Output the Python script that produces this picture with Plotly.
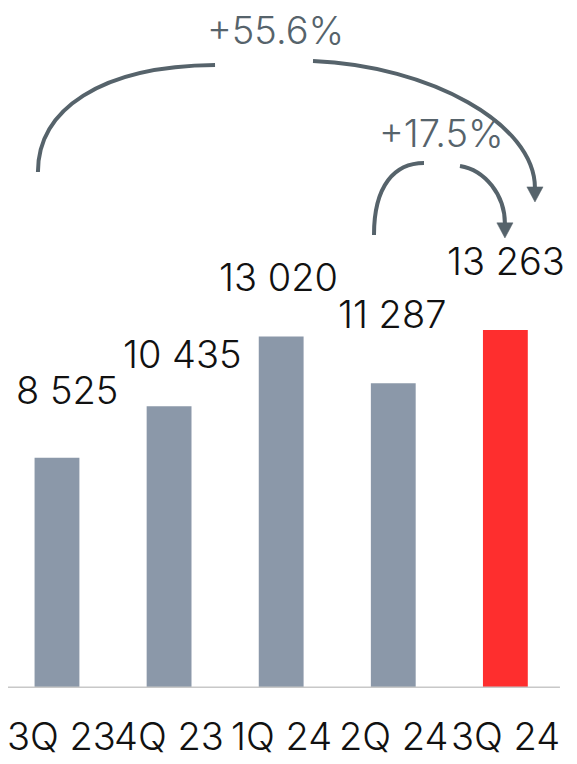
import plotly.graph_objects as go

categories = ["3Q 23", "4Q 23", "1Q 24", "2Q 24", "3Q 24"]
values = [8525, 10435, 13020, 11287, 13263]
value_labels = ["8 525", "10 435", "13 020", "11 287", "13 263"]
growth_labels = ["+55.6%", "+17.5%"]

GREY = "#8b98a9"
RED = "#fe2e2e"
ARROW = "#56636b"
TEXT = "#111111"
FONT = "Inter"
W = 300

colors = [GREY] * (len(values) - 1) + [RED]
xs = list(range(len(categories)))

fig = go.Figure()
fig.add_trace(go.Bar(x=xs, y=values, marker=dict(color=colors, line=dict(width=0)),
                     width=0.4, hoverinfo="skip"))

# value labels (style offsets only, in px)
label_xshift = [10, 13, -3, -1, 1]
label_yshift = [68, 52, 59, 69, 69]
for i, (v, t) in enumerate(zip(values, value_labels)):
    fig.add_annotation(x=i, y=v, text=t, showarrow=False, xref="x", yref="y",
                       yanchor="middle", xshift=label_xshift[i], yshift=label_yshift[i],
                       font=dict(family=FONT, size=38, color=TEXT, weight=W))

# category labels under the axis (first nudged to stay inside the page)
cat_xshift = [5, 0, 0, 0, 0]
for i, c in enumerate(categories):
    fig.add_annotation(x=i, y=0, text=c, showarrow=False, xref="x", yref="y",
                       yanchor="top", yshift=-23, xshift=cat_xshift[i],
                       font=dict(family=FONT, size=38, color=TEXT, weight=W))

def curve(p0, c1, c2, p3):
    return f"M {p0[0]},{p0[1]} C {c1[0]},{c1[1]} {c2[0]},{c2[1]} {p3[0]},{p3[1]}"

def arrowhead(xt, yt, dx=0.072, dy=560):
    return f"M {xt-dx},{yt+dy} L {xt+dx},{yt+dy} L {xt},{yt} Z"

# decorative growth arcs (data coordinates)
arcs = [
    ((-0.170, 19110), (-0.170, 21410), (0.384, 23040), (1.410, 23075)),
    ((2.284, 23220), (3.327, 23040), (4.264, 20900), (4.264, 18520)),
    ((2.828, 16780), (2.828, 18630), (3.015, 19445), (3.274, 19445)),
    ((3.595, 19335), (3.818, 19185), (3.996, 18260), (3.996, 17190)),
]
for a in arcs:
    fig.add_shape(type="path", path=curve(*a), xref="x", yref="y",
                  line=dict(color=ARROW, width=4), layer="above")
for tip in [(4.264, 18000), (3.996, 16667)]:
    fig.add_shape(type="path", path=arrowhead(*tip), xref="x", yref="y",
                  fillcolor=ARROW, line=dict(color=ARROW, width=0.5), layer="above")

fig.add_annotation(x=1.945, y=24407, text=growth_labels[0], showarrow=False,
                   yshift=-1, borderpad=0,
                   font=dict(family=FONT, size=38, color=ARROW, weight=W))
fig.add_annotation(x=3.434, y=20574, text=growth_labels[1], showarrow=False,
                   borderpad=0,
                   font=dict(family=FONT, size=38, color=ARROW, weight=W))

fig.update_layout(
    width=569, height=756,
    margin=dict(l=0, r=0, t=0, b=76, autoexpand=False),
    paper_bgcolor="white", plot_bgcolor="white",
    showlegend=False,
    xaxis=dict(range=[-0.437, 4.639], tickvals=xs, showticklabels=False,
               showgrid=False, zeroline=False, showline=False, automargin=False),
    yaxis=dict(range=[0, 25185], visible=False, showgrid=False, automargin=False),
)
fig.add_shape(type="line", xref="x", yref="y", x0=-0.5, x1=4.487, y0=0, y1=0,
              line=dict(color="#c8c8c8", width=3), layer="above")

fig.write_html("out.html")
